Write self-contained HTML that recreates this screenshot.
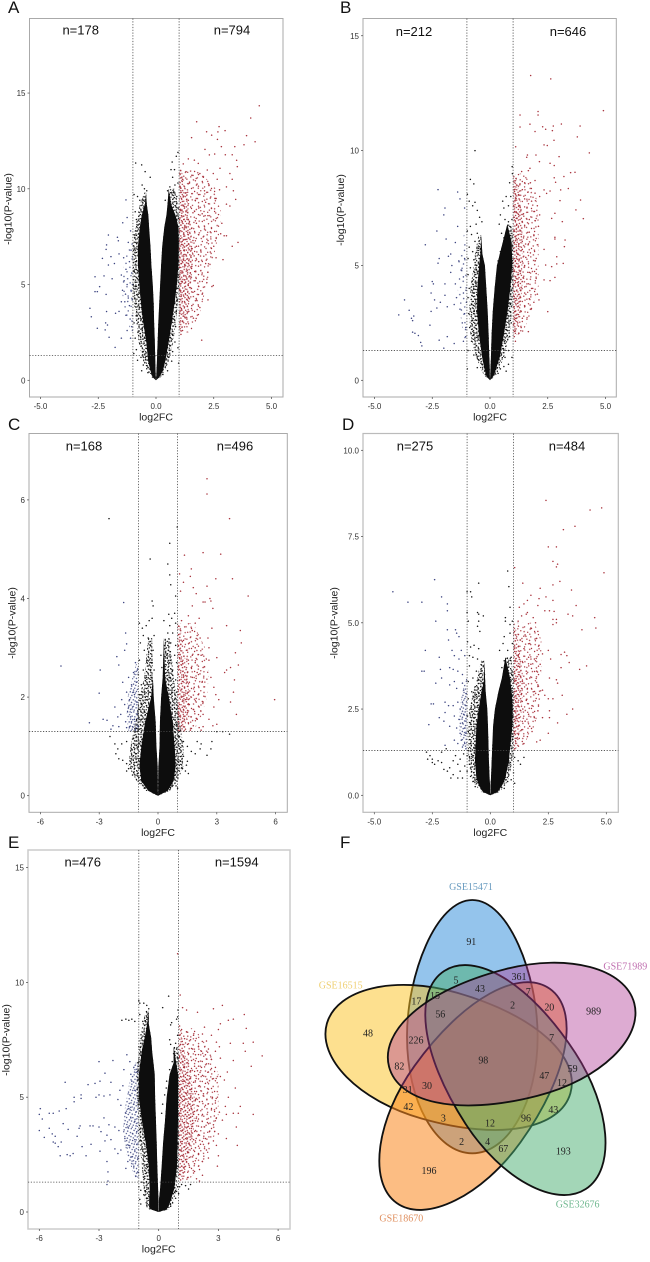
<!DOCTYPE html>
<html lang="en">
<head>
<meta charset="utf-8">
<title>Volcano plots and Venn diagram</title>
<style>
html,body{margin:0;padding:0;background:#fff;}
#figure{display:block;width:650px;height:1262px;filter:blur(0.3px);}
.tick{font:8px "Liberation Sans",sans-serif;fill:#333;}
.axt{font:10.5px "Liberation Sans",sans-serif;fill:#222;}
.cnt{font:13px "Liberation Sans",sans-serif;fill:#111;}
.pl{font:17px "Liberation Sans",sans-serif;fill:#111;}
.vn{font:30px "Liberation Serif",serif;fill:#222;}
.vs{font:30px "Liberation Serif",serif;}
</style>
</head>
<body>
<svg id="figure" xmlns="http://www.w3.org/2000/svg" width="650" height="1262" viewBox="0 0 650 1262">
<defs>
<filter id="coreBlur" x="-20%" y="-20%" width="140%" height="140%"><feGaussianBlur stdDeviation="0.35"/></filter>
<g id="speckleDense">
<circle cx="1.2" cy=".8" r=".7"/><circle cx="5.1" cy="1.6" r=".7"/><circle cx="9.3" cy=".5" r=".7"/><circle cx="13.4" cy="1.9" r=".7"/><circle cx="15.9" cy=".3" r=".7"/><circle cx="3" cy="3.4" r=".7"/><circle cx="7.2" cy="3.9" r=".7"/><circle cx="11.4" cy="3.1" r=".7"/><circle cx="15.2" cy="4.2" r=".7"/><circle cx=".6" cy="5.7" r=".7"/><circle cx="4.9" cy="6.2" r=".7"/><circle cx="8.8" cy="5.5" r=".7"/><circle cx="12.7" cy="6.4" r=".7"/><circle cx="2.4" cy="8.1" r=".7"/><circle cx="6.3" cy="7.9" r=".7"/><circle cx="10.5" cy="8.6" r=".7"/><circle cx="14.6" cy="7.7" r=".7"/><circle cx=".9" cy="10.2" r=".7"/><circle cx="4.4" cy="10.6" r=".7"/><circle cx="8.1" cy="9.9" r=".7"/><circle cx="12.2" cy="10.4" r=".7"/><circle cx="16.1" cy="10.1" r=".7"/><circle cx="2.7" cy="12.4" r=".7"/><circle cx="6.6" cy="12.1" r=".7"/><circle cx="10.2" cy="12.8" r=".7"/><circle cx="14.3" cy="12.5" r=".7"/><circle cx=".5" cy="14.4" r=".7"/><circle cx="4.8" cy="14.7" r=".7"/><circle cx="8.5" cy="14.2" r=".7"/><circle cx="12.4" cy="14.9" r=".7"/><circle cx="16" cy="14.3" r=".7"/><circle cx="2.2" cy="16.2" r=".7"/><circle cx="6.9" cy="16.1" r=".7"/><circle cx="10.8" cy="16.4" r=".7"/><circle cx="14.8" cy="16.5" r=".7"/>
</g>
<g id="speckleSparse">
<circle cx="2.3" cy="1.5" r=".7"/><circle cx="8.5" cy="3.8" r=".7"/><circle cx="15.4" cy=".8" r=".7"/><circle cx="18.5" cy="6.2" r=".7"/><circle cx="4.6" cy="6.9" r=".7"/><circle cx="11.5" cy="8.5" r=".7"/><circle cx=".8" cy="10.8" r=".7"/><circle cx="7.7" cy="12.3" r=".7"/><circle cx="14.6" cy="11.5" r=".7"/><circle cx="18.5" cy="14.6" r=".7"/><circle cx="3.8" cy="16.2" r=".7"/><circle cx="10.8" cy="16.9" r=".7"/><circle cx="16.2" cy="18.5" r=".7"/><circle cx="6.9" cy="19.2" r=".7"/>
</g>
<pattern id="blackDense" width="17" height="17" patternUnits="userSpaceOnUse"><use href="#speckleDense" fill="#111"/></pattern>
<pattern id="blackDense2" width="17" height="17" patternUnits="userSpaceOnUse" patternTransform="rotate(37)"><use href="#speckleDense" fill="#111"/></pattern>
<pattern id="redDense" width="17" height="17" patternUnits="userSpaceOnUse" patternTransform="rotate(12)"><use href="#speckleDense" fill="#a62a36"/></pattern>
<pattern id="redSparse" width="20" height="20" patternUnits="userSpaceOnUse"><use href="#speckleSparse" fill="#a8323c"/></pattern>
<pattern id="redSparse2" width="20" height="20" patternUnits="userSpaceOnUse" patternTransform="rotate(31)"><use href="#speckleSparse" fill="#a8323c"/></pattern>
<pattern id="blueDense" width="17" height="17" patternUnits="userSpaceOnUse" patternTransform="rotate(-20)"><use href="#speckleDense" fill="#3c4480"/></pattern>
<pattern id="blueSparse" width="20" height="20" patternUnits="userSpaceOnUse" patternTransform="rotate(-12)"><use href="#speckleSparse" fill="#3c4480"/></pattern>
</defs>
<rect width="650" height="1262" fill="#fff"/>
<g id="panels"></g>
<g transform="translate(310 860) scale(0.3333)">
<g stroke="#111" stroke-width="5.5">
<path transform="translate(487 500) rotate(-90)" fill="#4d9de0" fill-opacity=".6" d="M-380 0C-380 -108 -226 -196 -30 -196C158 -196 380 -108 380 0C380 108 158 196 -30 196C-226 196 -380 108 -380 0Z"/>
<path transform="translate(416 595) rotate(196)" fill="#fbc11f" fill-opacity=".5" d="M-380 0C-380 -108 -226 -196 30 -196C226 -196 380 -108 380 0C380 108 226 196 30 196C-226 196 -380 108 -380 0Z"/>
<path transform="translate(490 708) rotate(125.6)" fill="#fa871e" fill-opacity=".55" d="M-395 0C-395 -108 -226 -196 30 -196C226 -196 395 -108 395 0C395 108 226 196 30 196C-226 196 -395 108 -395 0Z"/>
<path transform="translate(615 660) rotate(57)" fill="#47ad6f" fill-opacity=".5" d="M-390 0C-390 -108 -226 -196 30 -196C226 -196 390 -108 390 0C390 108 226 196 30 196C-226 196 -390 108 -390 0Z"/>
<path transform="translate(605 525) rotate(-14.5)" fill="#af3794" fill-opacity=".42" d="M-380 0C-380 -108 -226 -196 30 -196C226 -196 380 -108 380 0C380 108 226 196 30 196C-226 196 -380 108 -380 0Z"/>
</g>
<g text-anchor="middle" id="venn-counts"></g>
<g text-anchor="middle">
<text class="vs" x="483" y="90" fill="#6a9cc0">GSE15471</text>
<text class="vs" x="946" y="328" fill="#c070b0">GSE71989</text>
<text class="vs" x="92" y="385" fill="#efd072">GSE16515</text>
<text class="vs" x="803" y="1043" fill="#70b890">GSE32676</text>
<text class="vs" x="274" y="1085" fill="#e09060">GSE18670</text>
</g>
</g>
</svg>
<script>
/* ---------- Panel A data ---------- */
const aLeftY=[0,.15,.5,1,2,3,4,5,6,7,8,8.6,9.2,9.8];
const aLeftOuter=[0,-.14,-.24,-.34,-.42,-.55,-.65,-.72,-.78,-.78,-.7,-.62,-.48,-.43];
const aLeftInner=[0,-.01,-.02,-.03,-.05,-.08,-.1,-.14,-.2,-.24,-.3,-.33,-.4,-.43];
const aLeftHalo=[0,-.2,-.35,-.55,-.75,-.85,-.95,-1,-1,-1,-.9,-.8,-.7,-.5];
const aRightY=[0,.15,.5,1,2,3,4,5,6,7,8,8.6,9.2,10];
const aRightOuter=[0,.14,.3,.4,.55,.68,.8,.9,.97,.99,.97,.85,.65,.55];
const aRightInner=[0,.01,.02,.04,.07,.1,.14,.18,.22,.27,.36,.45,.5,.55];
const aRightHalo=[0,.2,.38,.55,.75,.85,.95,1,1,1,1,1,.95,.8];
const aRedBandY=[2.5,3.5,5,6,7,8,9,10,11];
const aRedBandNear=[1.1,1.4,1.5,1.6,1.6,1.5,1.4,1.3,1.1];
const aRedBandFar=[1.5,1.9,2.2,2.4,2.6,2.8,2.8,2.6,1.8];
const aBlueBandY=[2.5,4,5,6,7.5];
const aBlueBandFar=[-1.1,-1.4,-1.5,-1.4,-1.1];
const aRed=[[4.47,14.34],[4.1,13.7],[1.76,13.5],[2.73,13.25],[2.99,13.04],[2.19,12.98],[2.68,12.97],[2.41,12.8],[3.92,12.78],[1.54,12.67],[2.66,12.58],[4.29,12.46],[3.81,12.3],[3.41,12.2],[2.83,12.2],[2.12,12.06],[2.31,11.77],[2.54,11.82],[3,11.78],[3.3,11.78],[3.49,11.49],[1.4,11.56],[1.66,11.5],[1.18,11.3],[1.83,11.33],[2.77,11.07],[3.52,11.16],[2.22,10.98],[1.9,10.8],[2.48,10.8],[3.2,10.8],[1.3,10.9],[1.6,10.7],[2.05,10.6],[2.65,10.5],[3.3,10.5],[1.15,10.5],[1.45,10.3],[1.75,10.2],[2.3,10.2],[3.05,10.1],[1.05,10.1],[2.75,9.95],[3.35,9.9],[2.1,9.9],[1.3,9.8],[1.55,9.75],[1.9,9.7],[3.45,9.45],[2.55,9.5],[1.1,9.5],[1.4,9.4],[1.7,9.4],[2.15,9.3],[3.05,9.2],[3.2,9.1],[1.2,9.1],[1.5,9.05],[1.85,9],[2.4,9],[1.05,8.9],[1.3,8.8],[1.6,8.75],[2,8.7],[2.25,8.6],[1.1,8.6],[1.02,8.4],[1.2,8.4],[1.45,8.3],[1.75,8.2],[2.85,8.2],[1.08,8.1],[1.3,8],[1.55,7.95],[2.1,7.9],[2.35,7.75],[1.03,7.8],[1.2,7.7],[1.4,7.6],[1.85,7.6],[2.8,7.65],[2.95,7.55],[3.05,7.55],[1.05,7.4],[1.25,7.35],[1.6,7.3],[2.25,7.3],[3.55,7.2],[3.3,7],[1.1,7.1],[1.35,7.05],[1.75,7],[2.5,7],[1.02,6.9],[1.2,6.8],[1.5,6.75],[1.95,6.7],[2.35,6.7],[1.08,6.6],[1.3,6.55],[1.65,6.5],[2.6,6.4],[2.9,6.3],[1.04,6.4],[1.18,6.3],[1.42,6.25],[1.85,6.2],[2.15,6.1],[1.1,6.1],[1.25,6],[1.55,5.95],[1.02,5.9],[1.35,5.75],[1.72,5.7],[2,5.6],[1.12,5.6],[1.45,5.45],[1.02,5.4],[1.25,5.25],[1.65,5.2],[2.2,5.1],[2.48,4.95],[2.42,4.9],[1.08,5.05],[1.4,4.95],[1.85,4.9],[1.03,4.75],[1.2,4.65],[1.6,4.6],[2,4.5],[1.1,4.4],[1.4,4.35],[2.25,4.2],[1.75,4.2],[1.02,4.1],[1.25,4.05],[1.55,3.9],[1.9,3.8],[1.1,3.75],[1.42,3.6],[1.03,3.5],[1.25,3.3],[1.62,3.25],[1.06,3.1],[1.3,2.95],[1.02,2.8],[1.15,2.6],[1.08,2.4],[1.98,2.1]];
const aBlue=[[-2.86,3.76],[-2.8,3.32],[-2.64,5.41],[-2.64,4.63],[-2.54,4.63],[-2.54,2.72],[-2.44,4.89],[-2.25,5.45],[-2.16,4.49],[-2.14,3.59],[-2.18,3],[-2.1,2.89],[-2.2,2.63],[-2.03,2.25],[-1.77,1.72],[-2.06,7.59],[-2.14,7.07],[-2.16,6.84],[-2.32,6.37],[-1.95,6.46],[-2.06,6.02],[-1.67,7.47],[-1.63,7.29],[-1.44,8.23],[-1.3,9.42],[-1.9,5.3],[-1.8,6.1],[-1.6,6.6],[-1.4,6.4],[-1.3,5.8],[-1.5,5.5],[-1.38,5.2],[-1.25,5],[-1.45,4.7],[-1.32,4.5],[-1.5,4.1],[-1.35,4.1],[-1.2,4.3],[-1.15,3.9],[-1.6,3.6],[-1.75,3.5],[-1.3,3.4],[-1.12,3.2],[-1.05,5.6],[-1.15,6.2],[-1.08,6.8],[-1.2,7.2],[-1.1,7.8],[-1.25,8.5],[-1.05,2.8],[-1.25,2.6],[-1.5,2.2],[-1.1,2.2],[-1.02,5],[-1.08,4.7],[-1.03,4.2]];
const aBlack=[[-.88,11.35],[-.62,11.25],[-.47,10.9],[-.25,10.6],[-.6,10.2],[-.5,10],[-.4,9.9],[-.95,9.7],[-.8,9.6],[-.7,9.4],[-.55,9.4],[-.9,8.8],[-.85,8.4],[-.78,8.1],[-.95,7.6],[-.82,7.2],[-.9,6.8],[-.86,6.2],[-.94,5.7],[-.8,5.3],[-.88,4.9],[-.76,4.5],[-.92,4.3],[-.72,3.8],[-.84,3.4],[-.64,3.2],[-.95,3],[-.6,2.7],[-.78,2.5],[-.9,2.2],[-.5,2.2],[-.7,1.9],[-.85,1.6],[-.55,1.5],[-.96,1.4],[-.65,1.2],[-.45,1.1],[-.8,1.05],[-.55,.8],[-.4,.6],[-.62,.5],[-.35,.4],[.95,11.9],[.88,11.7],[.7,11.4],[.65,11],[.8,11],[.72,10.6],[.6,10.1],[.5,9.9],[.82,10.2],[.95,10.3],[.4,9.4],[.58,9.7],[.75,9.8],[.9,9.6],[.97,9],[.85,9.1],[.98,5.5],[.95,4.8],[.92,4.2],[.88,3.6],[.75,3.2],[.85,2.8],[.7,2.4],[.82,2],[.6,1.8],[.72,1.5],[.95,1.7],[.55,1.2],[.68,1],[.98,.9],[.45,.8],[.5,.5],[.3,.3]];

/* ---------- Panel B data ---------- */
const bLeftY=[0,.2,.5,1,2,3,4,5,5.5,6.3];
const bLeftOuter=[0,-.16,-.24,-.34,-.48,-.56,-.55,-.47,-.42,-.38];
const bLeftInner=[0,-.01,-.01,-.03,-.06,-.1,-.16,-.22,-.33,-.38];
const bLeftHalo=[0,-.25,-.4,-.6,-.85,-.9,-.85,-.7,-.65,-.5];
const bRightY=[0,.2,.5,1,2,3,4,5,6,6.8];
const bRightOuter=[0,.16,.26,.42,.6,.76,.88,.96,.94,.75];
const bRightInner=[0,.01,.02,.04,.07,.12,.2,.3,.55,.75];
const bRightHalo=[0,.25,.4,.6,.85,.95,1,1,1,.95];
const bRedBandY=[2,3,4,5,6,7,8,9];
const bRedBandNear=[1.15,1.3,1.4,1.4,1.4,1.4,1.3,1.1];
const bRedBandFar=[1.4,1.8,2.1,2.1,2.1,2.1,2,1.5];
const bBlueBandY=[1.5,3,4,5,6.5];
const bBlueBandFar=[-1.1,-1.3,-1.4,-1.4,-1.1];
const bRed=[[1.76,13.27],[2.63,13.12],[4.91,11.74],[2.08,11.7],[2.08,11.55],[1.3,11.55],[1.73,11.15],[1.3,11.03],[2.28,11.04],[2.41,10.93],[2.74,11.07],[2.7,10.87],[3.09,11.16],[3.9,11.07],[1.95,10.83],[3.78,10.6],[2.77,10.45],[1.11,10.17],[2.34,10.25],[2.48,10.22],[4.3,9.9],[1.62,9.81],[1.59,9.71],[1.99,9.81],[2.99,9.74],[2.14,9.52],[2.6,9.45],[2.78,9.35],[1.73,9.23],[1.37,9.09],[1.66,9.13],[3.68,9.06],[3.49,9.04],[3.2,8.87],[2.78,8.82],[2.84,8.62],[3.39,8.35],[3.06,8.29],[2.34,8.29],[2.6,8.24],[2.45,8.14],[3.92,7.85],[3.03,7.82],[3.72,7.42],[4.04,7.04],[2.81,7.27],[2.67,7.05],[3.13,6.91],[2.81,6.23],[2.81,6.15],[3.25,6.11],[3.22,5.82],[2.34,5.7],[2.89,5.38],[3.17,5.09],[2.89,5.07],[2.67,4.95],[2.41,5.02],[2.34,4.37],[2.6,4.34],[2.81,4.48],[2.5,2.99],[2.12,3.5],[1.66,2.12],[1.95,8.7],[1.75,8.6],[1.5,8.6],[1.3,8.55],[1.15,8.5],[1.05,8.3],[1.4,8.3],[1.65,8.2],[1.95,8.15],[2.15,8],[1.25,8.05],[1.1,7.9],[1.5,7.9],[1.8,7.8],[2.05,7.6],[1.02,7.6],[1.3,7.55],[1.6,7.5],[1.9,7.35],[1.15,7.3],[1.45,7.25],[2.15,7.2],[1.05,7.1],[1.3,7],[1.7,7],[1.95,6.95],[1.15,6.75],[1.5,6.75],[2.1,6.7],[1.02,6.5],[1.3,6.5],[1.7,6.45],[1.9,6.3],[1.1,6.25],[1.45,6.2],[1.05,6],[1.25,5.95],[1.65,5.9],[2.05,5.9],[1.02,5.75],[1.4,5.7],[1.15,5.55],[1.75,5.55],[1.55,5.35],[1.05,5.3],[1.25,5.2],[1.95,5.2],[1.5,5],[1.1,4.95],[1.02,4.75],[1.3,4.75],[1.7,4.7],[2,4.65],[1.1,4.5],[1.45,4.45],[1.2,4.25],[1.6,4.2],[1.02,4.1],[1.35,4.05],[1.85,4],[1.15,3.9],[1.5,3.8],[2.05,3.75],[1.05,3.65],[1.3,3.6],[1.7,3.55],[1.9,3.4],[1.2,3.35],[1.5,3.25],[1.05,3.2],[1.75,3.1],[1.35,3],[1.15,2.85],[1.05,2.65],[1.4,2.7],[1.2,2.5],[1.02,2.4],[1.35,2.3],[1.1,2.15],[1.25,2.05],[1.05,1.9],[1.1,1.7]];
const bBlue=[[-3.95,2.85],[-3.7,3.5],[-3.5,3.05],[-3.4,2.7],[-3.35,2.6],[-3.3,2.8],[-3.35,2.1],[-3.25,2.05],[-3.1,1.95],[-3,1.65],[-2.95,1.5],[-2.95,4.1],[-2.8,5.9],[-2.6,2.4],[-2.55,3],[-2.55,3.8],[-2.5,4.3],[-2.45,4.2],[-2.4,3.5],[-2.3,3.15],[-2.3,6.5],[-2.25,8.3],[-2.25,5.1],[-2.2,5.3],[-2.15,3.4],[-2.2,1.75],[-2,7.2],[-1.95,7.5],[-2,1.4],[-1.95,4.2],[-1.95,3.7],[-1.9,6.15],[-1.85,1.9],[-1.85,3.2],[-1.8,5.4],[-1.7,5.5],[-1.7,4.7],[-1.65,5],[-1.55,3.3],[-1.55,1.6],[-1.5,6],[-1.5,4.2],[-1.45,3.6],[-1.4,6.7],[-1.35,5.2],[-1.3,7.9],[-1.25,4.8],[-1.3,3.1],[-1.2,2.5],[-1.15,3.8],[-1.15,4.5],[-1.1,2.9],[-1.1,5.3],[-1.05,1.9],[-1.15,1.7],[-1.05,2.3],[-1.02,3.4],[-1.1,7.5],[-1.4,8.2]];
const bBlack=[[-.65,10],[-.85,8.75],[-.7,8.55],[-.98,8.1],[-.9,7.8],[-.75,7.6],[-.65,7.75],[-.55,7.4],[-.45,7.1],[-.35,6.9],[-.6,6.8],[-.85,6.7],[-.98,6.5],[-.8,6.35],[-.55,6.4],[-.4,6.2],[-.65,6.05],[-.9,5.8],[-.75,5.6],[-.5,5.75],[-.95,5.3],[-.7,5.25],[-.58,5],[-.85,4.9],[-.65,4.6],[-.95,4.6],[-.78,4.3],[-.6,4.2],[-.9,4],[-.72,3.8],[-.62,3.5],[-.95,3.6],[-.8,3.3],[-.68,3],[-.92,2.9],[-.75,2.6],[-.6,2.4],[-.88,2.3],[-.7,2],[-.52,1.9],[-.8,1.7],[-.6,1.5],[-.95,1.3],[-.7,1.1],[-.5,.9],[-.35,.7],[-.55,.55],[-.98,.5],[.55,7.8],[.6,7.5],[.8,7.6],[.9,8],[.85,8.6],[.97,9],[.96,9.3],[.7,8],[.65,7],[.45,7.2],[.4,6.8],[.8,6.9],[.5,6.4],[.95,7],[.6,6.2],[.45,5.6],[.35,5.2],[.3,4.6],[.97,5.2],[.95,4.5],[.92,3.9],[.88,3.3],[.8,2.8],[.92,2.5],[.72,2.2],[.85,1.9],[.62,1.7],[.8,1.3],[.95,1],[.65,1],[.8,.7],[.6,.6],[.45,.5],[.7,.4],[.35,.3]];

/* ---------- Panel C data ---------- */
const cLeftY=[0,.1,.3,.6,1,1.5,2,2.4,3.2];
const cLeftOuter=[0,-.5,-.85,-.95,-.85,-.65,-.35,-.26,-.3];
const cLeftInner=[0,-.01,-.01,-.02,-.08,-.12,-.22,-.26,-.3];
const cLeftHalo=[0,-.6,-1.1,-1.5,-1.4,-1.15,-.95,-.7,-.5];
const cRightY=[0,.1,.3,.6,1,1.5,2,2.4,3.2];
const cRightOuter=[0,.5,.8,.9,.85,.75,.55,.36,.3];
const cRightInner=[0,.01,.01,.02,.08,.1,.16,.24,.3];
const cRightHalo=[0,.6,1,1.3,1.3,1.1,.95,.8,.6];
const cRedBandY=[1.3,1.6,2,2.5,3,3.5];
const cRedBandNear=[1.3,1.5,1.6,1.5,1.3,1.1];
const cRedBandFar=[1.8,2.2,2.5,2.6,2.4,1.8];
const cBlueBandY=[1.3,1.6,2,2.4,2.7];
const cBlueBandFar=[-1.5,-1.6,-1.55,-1.3,-1.1];
const cRed=[[2.5,6.43],[2.5,6.12],[3.65,5.62],[1.35,4.88],[2.3,4.93],[3.2,4.9],[1.7,4.6],[1.65,4.45],[1.1,4.5],[2.95,4.4],[3.8,4.4],[1.3,4.33],[2.5,4.25],[1.8,4.22],[1.15,4.15],[1.95,4.1],[4.6,4.05],[2.65,4],[2.7,3.95],[2.3,3.93],[2.4,3.93],[1.75,3.85],[2.8,3.8],[1.55,3.65],[2.1,3.6],[1.2,3.55],[1.9,3.5],[3.5,3.45],[2.75,3.4],[1.75,3.35],[4.2,3.35],[2,3.25],[2.15,3.2],[2.55,3.2],[1.3,3.15],[1.6,3.1],[4.25,3.1],[1.05,3.05],[1.9,3],[2.6,3],[1.45,2.95],[1.75,2.85],[2.2,2.85],[3.95,2.9],[1.1,2.8],[1.55,2.75],[2.6,2.75],[3,2.8],[1.9,2.7],[1.2,2.65],[1.7,2.6],[2.3,2.6],[4.1,2.65],[3.7,2.6],[1.05,2.55],[1.5,2.5],[2,2.5],[3.5,2.55],[3.4,2.5],[1.3,2.45],[1.75,2.4],[2.7,2.4],[1.1,2.35],[1.6,2.3],[2.25,2.3],[3.9,2.35],[1.35,2.2],[1.85,2.2],[2.85,2.2],[1.05,2.15],[1.55,2.1],[2.05,2.05],[2.95,2.05],[3.85,2.1],[1.2,2],[1.7,2],[3.1,1.95],[1.4,1.95],[1.95,1.9],[2.3,1.9],[1.1,1.85],[1.6,1.85],[2.1,1.8],[2.85,1.8],[3.7,1.9],[1.3,1.75],[1.8,1.75],[1.05,1.7],[1.5,1.68],[2.3,1.65],[1.15,1.6],[1.7,1.6],[4,1.65],[5.95,1.95],[1.35,1.55],[2,1.55],[2.6,1.55],[1.05,1.5],[1.55,1.48],[1.8,1.42],[3,1.45],[1.2,1.42],[2.1,1.38],[2.3,1.4],[2.8,1.42],[1.4,1.35],[1.05,1.33],[1.65,1.33],[2.2,1.33]];
const cBlue=[[-3.5,1.48],[-2.8,1.55],[-2.6,1.53],[-2.3,1.42],[-2.4,1.35],[-2.2,1.8],[-2.05,1.6],[-2,1.4],[-1.9,1.65],[-1.85,1.95],[-1.8,2.3],[-1.7,1.85],[-1.65,1.5],[-1.6,2.1],[-1.55,1.7],[-1.5,2.4],[-1.45,1.4],[-1.45,1.95],[-1.4,1.6],[-1.35,2.25],[-1.3,1.8],[-1.3,1.4],[-1.25,2.5],[-1.2,2.05],[-1.2,1.55],[-1.15,1.35],[-1.1,2.3],[-1.1,1.9],[-1.05,1.65],[-1.05,2.55],[-1.02,1.4],[-1.75,3.92],[-1.65,3.3],[-1.6,3.08],[-1.7,2.95],[-2.1,2.82],[-2,2.65],[-4.95,2.63],[-2.95,2.55],[-3,2.08],[-1.15,2.7],[-1.25,2.1],[-1.5,1.8],[-1.35,1.5],[-1.6,1.38]];
const cBlack=[[-2.5,5.62],[-.4,4.8],[.5,4.7],[.6,5.12],[.98,5.45],[.6,4.48],[.65,4.28],[.9,4.05],[-.3,3.95],[-.25,3.85],[.85,3.7],[.55,3.68],[.7,3.6],[-.95,3.5],[-.8,3.4],[-.6,3.45],[-.45,3.55],[-.3,3.6],[.9,3.5],[.6,3.45],[.3,3.55],[-.75,3.25],[-.5,3.2],[-.2,3.25],[.5,3.3],[.75,3.3],[-.9,3.1],[-.4,3.05],[.35,3.05],[.65,3.1],[.9,3.05],[-.7,2.95],[-.25,2.95],[.15,2.85],[.45,2.85],[.85,2.85],[-.95,2.75],[-.55,2.75],[-.3,2.7],[.3,2.75],[.6,2.7],[.95,2.7],[-.75,2.55],[-.4,2.55],[-.2,2.55],[.2,2.6],[.45,2.5],[.75,2.55],[-1,2.45],[-.6,2.4],[-.35,2.4],[.35,2.4],[.6,2.4],[.9,2.35],[-.85,2.25],[-.5,2.25],[.55,2.25],[.8,2.2],[-.7,2.1],[-.95,2.05],[-.45,2.1],[.7,2.1],[.95,2.1],[-.6,1.95],[-.85,1.85],[.6,1.9],[.85,1.95],[-.95,1.75],[-.7,1.7],[.72,1.75],[.95,1.75],[-.85,1.55],[-.65,1.5],[.8,1.55],[.95,1.45],[-.95,1.35],[-.75,1.25],[.85,1.3],[-1.1,1.2],[-1.3,1.15],[-1.6,1.1],[-1.85,1.05],[-2.05,.95],[-2.15,.85],[-2,.75],[-1.8,.72],[-1.6,.65],[-1.5,.55],[-1.35,.95],[-1.15,.85],[-1.4,.7],[-1.2,.55],[-1,1],[-1,.75],[-1.05,.45],[-.9,.55],[-.85,1],[-1.6,.5],[-1.3,.42],[-2.45,1.2],[-2.2,1.05],[.95,1.15],[1.1,1.2],[1.3,1.1],[1.5,1],[1.7,.9],[1.9,.85],[2,1.1],[2.15,.95],[2.2,1.05],[1.3,.8],[1.5,.7],[1.1,.95],[1.15,.7],[1.25,.55],[1.4,.5],[1.45,.62],[1.55,.45],[.95,.85],[.95,.55],[1,.7],[.9,.42],[.92,.2],[1,.15],[-.85,.3],[-.7,.15],[2.5,.82],[2.7,.95],[2.75,1.1],[3,1.3],[3.3,1.3],[3.65,1.25],[-.55,.18],[.7,.2],[.6,.12]];

/* ---------- Panel D data ---------- */
const dLeftY=[0,.1,.3,.5,1,2,2.5,3,3.3,3.9];
const dLeftOuter=[0,-.32,-.5,-.6,-.66,-.6,-.5,-.38,-.28,-.26];
const dLeftInner=[0,-.01,-.01,-.03,-.06,-.1,-.13,-.2,-.22,-.26];
const dLeftHalo=[0,-.4,-.65,-.8,-.95,-.95,-.9,-.75,-.6,-.4];
const dRightY=[0,.1,.3,.5,1,2,2.5,3,3.4,4];
const dRightOuter=[0,.32,.52,.65,.8,.95,.97,.92,.85,.65];
const dRightInner=[0,.01,.01,.03,.06,.12,.2,.35,.5,.65];
const dRightHalo=[0,.4,.65,.8,.95,1,1,1,1,.9];
const dRedBandY=[1.3,2,2.5,3,3.5,4,4.5,5];
const dRedBandNear=[1.1,1.3,1.35,1.4,1.4,1.3,1.2,1.05];
const dRedBandFar=[1.3,1.9,2.1,2.2,2.2,2.2,2.2,1.9];
const dBlueBandY=[1.4,2,2.6,3,3.4];
const dBlueBandFar=[-1.2,-1.35,-1.3,-1.2,-1.05];
const dRed=[[2.4,8.55],[4.8,8.33],[4.3,8.27],[3.65,7.8],[3.15,7.7],[2.5,7.2],[2.85,7.2],[2.7,6.78],[2.9,6.7],[2.85,6.62],[1.05,6.6],[4.9,6.45],[3,6.2],[1.4,6.15],[2.7,6.1],[2.15,6],[3.5,5.95],[2.4,5.75],[1.75,5.8],[2.1,5.7],[2.7,5.65],[1.6,5.65],[1.45,5.55],[2.05,5.5],[3.7,5.5],[1.25,5.45],[2.35,5.35],[2.55,5.35],[2.75,5.33],[1.6,5.3],[1.55,5.25],[1.35,5.2],[3.35,5.25],[3.55,5.2],[1.85,5.15],[2.7,5.1],[2.85,5.1],[4.5,5.15],[1.2,5.05],[1.95,5],[2.7,4.95],[2.85,5],[4.55,4.85],[1.75,4.85],[2.05,4.75],[3.95,4.8],[1.1,4.65],[1.5,4.65],[2,4.55],[1.3,4.5],[1.7,4.4],[2.1,4.35],[1.05,4.3],[1.45,4.25],[2.5,4.2],[3.2,4.15],[3.05,4.08],[3.3,4.05],[2.25,4.1],[1.2,4.05],[1.65,4],[1.9,3.95],[2.6,3.95],[3.4,3.85],[1.05,3.9],[1.4,3.85],[1.75,3.8],[2.15,3.8],[4.15,3.75],[3.05,3.7],[3.85,3.65],[1.15,3.65],[1.55,3.6],[2,3.6],[1.3,3.45],[1.7,3.4],[2.55,3.4],[2.85,3.35],[1.05,3.3],[1.45,3.25],[2.9,3.25],[2.05,3.2],[1.2,3.1],[1.6,3.1],[2.25,3.05],[1.85,3],[1.35,2.95],[1.05,2.85],[2.35,2.9],[3.1,2.9],[1.55,2.75],[2.5,2.8],[2.7,2.8],[1.2,2.7],[1.8,2.6],[1.4,2.5],[3.55,2.5],[1.05,2.45],[2.05,2.45],[2.55,2.45],[1.65,2.35],[3.3,2.35],[1.25,2.25],[1.9,2.25],[2.25,2.25],[2.55,2.25],[1.05,2.2],[1.5,2.15],[2.9,2.1],[1.15,2],[1.7,2],[1.35,1.9],[1.8,1.85],[2.5,1.8],[1.05,1.8],[1.6,1.7],[2.15,1.6],[1.25,1.65],[2,1.55],[1.1,1.5],[1.45,1.5],[1.05,1.35]];
const dBlue=[[-4.2,5.9],[-3.55,5.6],[-2.95,5.6],[-2.4,6.25],[-2.1,5.75],[-1.85,5.55],[-1.85,5.35],[-2.35,5.05],[-1.85,4.8],[-1.5,4.8],[-1.45,4.7],[-1.35,4.6],[-1.8,4.5],[-2.8,4.2],[-2.2,4],[-1.65,4.2],[-1.55,4.05],[-1.25,4.2],[-1.1,4.05],[-1.35,3.95],[-2.15,3.65],[-2.85,3.6],[-2.95,3.6],[-1.75,3.7],[-1.6,3.65],[-1.4,3.6],[-1.2,3.5],[-2.1,3.4],[-1.55,3.3],[-1.2,3.25],[-2.35,3.25],[-1.75,3.2],[-1.45,3.1],[-1.15,3.05],[-1.05,2.95],[-2.55,2.65],[-2.45,2.65],[-1.95,2.7],[-1.8,2.6],[-1.6,2.6],[-1.4,2.7],[-1.2,2.7],[-1.05,2.6],[-1.3,2.5],[-1.15,2.35],[-1.55,2.3],[-1.95,2.4],[-2.2,2.25],[-1.35,2.2],[-2,2.15],[-1.2,2.1],[-1.05,2.15],[-2.65,2.05],[-1.75,2],[-1.45,1.95],[-1.1,1.95],[-1.3,1.8],[-1.05,1.8],[-1.55,1.6],[-1.25,1.6],[-1.1,1.5],[-1.4,1.5],[-1.2,1.4],[-1.95,1.45],[-1.05,1.35]];
const dBlack=[[.75,6.5],[.8,6.05],[-.5,6.15],[-.8,5.75],[-1,5.9],[-.85,5.9],[-.55,5.3],[-.5,5.25],[-.3,5.2],[-1,5.3],[-.95,5.05],[-.5,5.05],[-.55,4.9],[-.45,4.75],[.65,5.15],[.95,5.05],[.65,5.05],[.85,5.45],[.85,4.95],[.85,4.7],[.6,4.6],[.95,4.4],[-.98,4.45],[-.85,4.3],[-.7,4.35],[-.5,4.25],[-.9,4.05],[-.75,4],[-.55,3.95],[-.3,3.75],[-.9,3.75],[-.6,3.6],[-.4,3.6],[-.75,3.4],[-.5,3.35],[-.25,3.5],[-.95,3.3],[-.65,3.15],[-.35,3.25],[-.8,3],[-.5,2.95],[-.95,2.8],[-.7,2.75],[-.55,2.6],[-.85,2.5],[-.98,2.3],[-.7,2.25],[-.85,2.1],[-.6,2.05],[-.95,1.85],[-.72,1.75],[-.85,1.5],[-.65,1.4],[-.95,1.3],[-.75,1.15],[.55,4.4],[.4,4.2],[.75,4.2],[.9,4],[.6,3.9],[.75,3.7],[.5,3.7],[.92,3.5],[.6,3.4],[.97,2.9],[.97,2.3],[.98,1.7],[.98,1.2],[1.05,1.1],[1.2,1],[1.3,.9],[1.45,1.1],[-1,1.15],[-1.15,1.2],[-1.3,1.05],[-1.4,.9],[-1.5,1.15],[-1.6,1],[-1.75,.8],[-1.85,.7],[-2,.75],[-2.1,.95],[-2.25,1],[-2.5,1.05],[-2.6,1.15],[-2.7,1.05],[-2.75,1.25],[-2.4,.9],[-1.6,.6],[-1.7,.5],[-1.3,.7],[-1.1,.85],[-1.2,.5],[-1.4,.5],[-1,.7],[-.9,.9],[-.85,.55],[-.75,.4],[-.65,.25],[.7,.9],[.85,.75],[1,.65],[.75,.4],[.6,.2],[1.05,.35],[.9,.45],[-2.5,.95],[-2.1,1.25],[-1.9,1.35]];

/* ---------- Panel E data ---------- */
const eLeftY=[0,.1,.2,.5,1,2,3,4,5,6,7,7.6,8.2,8.8];
const eLeftOuter=[0,-.35,-.48,-.48,-.45,-.5,-.65,-.85,-1,-1,-.85,-.7,-.58,-.5];
const eLeftInner=[0,-.01,-.01,-.01,-.03,-.07,-.1,-.14,-.18,-.2,-.33,-.38,-.5,-.5];
const eLeftHalo=[0,-.45,-.6,-.7,-.75,-.85,-.95,-1,-1.1,-1.1,-1,-.95,-.8,-.65];
const eRightY=[0,.1,.2,.5,1,2,3,4,5,6,6.5,7.2];
const eRightOuter=[0,.35,.48,.6,.78,.92,.95,.97,.97,.97,.88,.75];
const eRightInner=[0,.01,.01,.01,.07,.15,.22,.32,.4,.55,.75,.75];
const eRightHalo=[0,.45,.6,.75,.9,.98,1,1,1,1,1,.95];
const eRedBandY=[1.4,2,3,4,5,6,7,8];
const eRedBandNear=[1.15,1.4,1.7,1.8,1.8,1.6,1.3,1.05];
const eRedBandFar=[1.5,2.2,2.7,3,3,3,2.6,1.8];
const eBlueBandY=[1.5,2.5,3.5,4.5,5.5,6.5];
const eBlueBandFar=[-1.2,-1.6,-1.8,-1.7,-1.5,-1.2];
const eRed=[[.95,11.25],[1.08,9.45],[3.2,9],[1.2,8.9],[1.4,8.8],[2.75,8.85],[1.95,8.7],[4.3,8.6],[3.75,8.4],[3.5,8.35],[3.1,8.2],[1.05,8.1],[2.3,8.05],[3,7.95],[4.4,8],[1.15,7.95],[1.4,7.85],[2.2,7.75],[1.05,7.7],[1.75,7.7],[2.65,7.7],[1.3,7.55],[1.6,7.5],[2.4,7.45],[3.6,7.35],[2.9,7.4],[4.25,7.35],[1.1,7.3],[1.45,7.3],[2,7.2],[4.75,7.4],[1.7,7.1],[2.5,7.1],[3.05,7.2],[4.35,7],[5.2,6.8],[1.2,7],[2.15,7],[2.85,7],[1.5,6.9],[1.05,6.8],[1.85,6.85],[2.35,6.85],[3.1,6.7],[2.65,6.65],[1.3,6.7],[1.65,6.6],[2,6.55],[3.75,6.6],[1.1,6.5],[1.45,6.5],[2.4,6.45],[4.65,6.35],[1.8,6.35],[1.25,6.3],[2.15,6.3],[2.85,6.3],[3.45,6.1],[1.05,6.2],[1.6,6.15],[1.95,6.15],[2.5,6.1],[1.35,6],[1.8,5.95],[2.2,5.95],[1.1,5.9],[3.1,5.9],[1.55,5.8],[2,5.8],[2.7,5.8],[1.25,5.7],[1.75,5.65],[2.35,5.6],[3.3,5.75],[1.05,5.55],[1.45,5.5],[2.05,5.5],[1.2,5.35],[1.65,5.35],[2.5,5.35],[3.85,5.4],[1.9,5.25],[1.05,5.2],[1.4,5.15],[2.25,5.15],[1.1,5],[1.6,5],[2.7,5],[3.5,5],[1.85,4.9],[1.25,4.85],[2.05,4.8],[2.85,4.75],[1.05,4.7],[1.45,4.65],[1.7,4.65],[2.35,4.65],[3.35,4.6],[4.1,4.6],[1.15,4.5],[1.55,4.45],[1.95,4.45],[2.65,4.45],[3.05,4.35],[3.75,4.3],[3.4,4.25],[4.75,4.25],[4,4.3],[1.05,4.3],[1.35,4.25],[1.75,4.25],[2.2,4.25],[1.55,4.1],[2.9,4.1],[1.1,4.05],[2,4.05],[3.2,4],[1.3,3.9],[2.45,3.9],[1.7,3.85],[2.75,3.8],[1.05,3.75],[1.45,3.7],[2.15,3.7],[3.9,3.7],[1.85,3.55],[1.2,3.55],[2.55,3.5],[1.55,3.4],[3,3.4],[1.05,3.35],[2.05,3.35],[1.35,3.2],[2.35,3.2],[3.4,3.2],[1.75,3.15],[2.75,3.1],[1.1,3.05],[1.55,2.95],[2.1,2.95],[3.95,2.9],[1.3,2.85],[2.9,2.9],[1.85,2.8],[1.05,2.7],[2.4,2.7],[1.5,2.6],[2,2.55],[1.2,2.45],[1.7,2.4],[3,2.45],[2.5,2.35],[1.05,2.3],[1.4,2.2],[2.2,2.2],[1.8,2.1],[1.15,2],[2.95,2],[1.55,1.95],[2.05,1.85],[1.3,1.75],[1.05,1.65],[1.75,1.7],[2.2,1.6],[1.45,1.5],[1.9,1.45],[1.1,1.4],[2.05,1.35]];
const eBlue=[[-4.7,5.65],[-3.2,5.6],[-2.95,5.7],[-3,6.55],[-2.3,6.6],[-2.7,6.05],[-2.4,5.65],[-3.55,5.55],[-3.9,5.1],[-3.9,4.95],[-4.25,5],[-3,5.1],[-3.15,5],[-2.75,5.05],[-2.45,5.1],[-5.95,4.5],[-6,4.25],[-5.5,4.3],[-5.3,4.3],[-5,4.4],[-4.65,4.5],[-4.25,4.8],[-5.85,4.05],[-4.8,3.85],[-3.95,3.75],[-3.45,3.75],[-3.3,3.75],[-4,3.65],[-6,3.55],[-5.5,3.65],[-4.55,3.6],[-5.35,3.4],[-5.75,3.25],[-5.2,3.3],[-4.9,3.05],[-4.1,3.3],[-5.2,3],[-5.05,2.85],[-5.3,3.05],[-3.85,2.85],[-3.4,2.95],[-3,3.7],[-2.9,3.5],[-2.95,2.65],[-2.7,3.1],[-4.6,2.5],[-4.3,2.55],[-4.45,2.45],[-3.65,2.45],[-4.95,2.45],[-2.75,4.1],[-2.5,3.8],[-2.4,3.15],[-2.6,3.35],[-2.2,3.7],[-2,3.55],[-2.2,2.75],[-2.05,2.55],[-1.9,2.7],[-1.9,4.65],[-2.05,4.9],[-1.95,5.3],[-1.8,5.5],[-1.75,6.2],[-1.6,6.85],[-1.65,4.3],[-1.55,3.7],[-1.7,3.2],[-1.45,6.55],[-1.4,6],[-1.35,5.7],[-1.45,5.1],[-1.5,4.5],[-1.4,4.1],[-1.3,3.4],[-1.5,2.9],[-1.35,2.4],[-1.55,2.2],[-1.65,1.9],[-1.25,6.3],[-1.2,5.3],[-1.25,4.7],[-1.2,3.95],[-1.2,3.15],[-1.2,2.7],[-1.25,2],[-1.1,6.1],[-1.15,4.35],[-1.1,3.5],[-1.1,2.95],[-1.05,2.35],[-1.05,1.75],[-1.15,1.55],[-2.6,1.2],[-2.55,1.75],[-2.55,1.35],[-2.6,2.2]];
const eBlack=[[.5,9.4],[.2,8.9],[-.95,9.1],[-.75,9.1],[-.6,9],[-.5,8.85],[-1,9.2],[-.95,8.6],[-.8,8.3],[-.6,8.5],[-.65,8.3],[-1.2,8.3],[-1.35,8.4],[-1.85,8.35],[-1.65,8.4],[-1.5,8.35],[.65,8.25],[.6,8.15],[.9,8.4],[.97,8.8],[.95,8.5],[.55,7.5],[.6,7.3],[.95,7.7],[.85,7.35],[.9,7.1],[.75,6.9],[.82,6.7],[.68,6.55],[.95,6.9],[.55,6.2],[.72,6.2],[.4,5.7],[.38,5.4],[.3,5.1],[.98,6.7],[.2,4.7],[.15,4.3],[-1,7.2],[-.95,6.9],[-1.05,6.5],[-.95,.55],[-.9,.35],[-1,1.1],[-.85,1.3],[-.7,1.55],[-.6,2],[-.75,2.4],[-.85,2.75],[-.95,3.1],[-.95,3.6],[-.65,.9],[-.75,.75],[-.55,.6],[-.9,.95],[-.6,.3],[.95,1.1],[1.05,1.1],[1.15,1.2],[1.35,1.15],[1.6,1.2],[1.5,1],[1,.8],[.85,.6],[.7,.4],[.6,.25],[.9,.9],[.8,.85],[.98,2],[.98,3],[.98,4.3]];

/* ---------- Axis tick labels ---------- */
const fiveTicksDecimal=["-5.0","-2.5","0.0","2.5","5.0"];
const fiveTickValues=[-5,-2.5,0,2.5,5];
const sixTicks=["-6","-3","0","3","6"];
const sixTickValues=[-6,-3,0,3,6];
const abeYTicks=[0,5,10,15];
const cYTicks=[0,2,4,6];
const dYTicks=[0,2.5,5,7.5,10];
const dYTickLabels=["0.0","2.5","5.0","7.5","10.0"];

/* ---------- Venn counts ---------- */
const vennCounts=["91","5","361","43","15","17","7","2","20","56","989","48","226","7","98","82","59","47","30","31","12","42","43","3","96","12","2","4","67","193","196"];
const vennCountX=[484,438,627,510,375,319,655,608,718,391,851,174,318,725,520,268,788,703,351,293,756,295,730,400,648,540,455,533,580,760,357];
const vennCountY=[245,360,350,386,407,424,395,435,441,463,453,519,541,533,600,618,626,647,677,689,668,740,749,775,775,789,845,845,866,874,932];

const SVGNS="http://www.w3.org/2000/svg";
function mk(parent,tag,attrs,text){
  const el=document.createElementNS(SVGNS,tag);
  for(const k in attrs){el.setAttribute(k,attrs[k]);}
  if(text!==undefined){el.textContent=text;}
  parent.appendChild(el);
  return el;
}

function drawPanel(c){
  const root=document.getElementById('panels');
  const g=mk(root,'g',{});
  
  
  const sx=v=>c.x0+v*c.kx;
  const sy=v=>c.y0-v*c.ky;
  const band=(ys,a,b)=>ys.map((y,i)=>sx(a[i])+','+sy(y)).concat(ys.map((y,i)=>sx(b[i])+','+sy(y)).reverse()).join(' ');

  const frame=mk(g,'rect',{x:c.l,y:c.t,width:c.r-c.l,height:c.b-c.t,fill:'#fff',stroke:c.frame,'stroke-width':c.fw});
  
  

  /* speckled density bands of the up and down regulated clouds */
  const baseRed=c.redY.map(()=>1);
  const baseBlue=c.blueY.map(()=>-1);
  const rf=mk(g,'polygon',{points:band(c.redY,baseRed,c.redFar),fill:'url(#redSparse)'});
  
  
  const rf2=mk(g,'polygon',{points:band(c.redY,baseRed,c.redFar),fill:'url(#redSparse2)'});
  
  
  const rn=mk(g,'polygon',{points:band(c.redY,baseRed,c.redNear),fill:'url(#redDense)'});
  
  
  const bf=mk(g,'polygon',{points:band(c.blueY,baseBlue,c.blueFar),fill:c.blueFill});
  
  

  /* fringe of scattered black points around the core */
  const lh=mk(g,'polygon',{points:band(c.leftY,c.leftHalo,c.leftInner),fill:'url(#blackDense)'});
  
  
  const lh2=mk(g,'polygon',{points:band(c.leftY,c.leftHalo,c.leftInner),fill:'url(#blackDense2)'});
  
  
  const rh=mk(g,'polygon',{points:band(c.rightY,c.rightHalo,c.rightInner),fill:'url(#blackDense)'});
  
  
  const rh2=mk(g,'polygon',{points:band(c.rightY,c.rightHalo,c.rightInner),fill:'url(#blackDense2)'});
  
  

  /* dense core of the volcano */
  const lb=mk(g,'polygon',{points:band(c.leftY,c.leftOuter,c.leftInner),fill:'#070707',filter:'url(#coreBlur)'});
  
  
  const rb=mk(g,'polygon',{points:band(c.rightY,c.rightOuter,c.rightInner),fill:'#070707',filter:'url(#coreBlur)'});
  
  

  const series=[[c.black,'#141414','black-point'],[c.blue,'#3c4480','blue-point'],[c.red,'#a8323c','red-point']];
  series.forEach(s=>{
    s[0].forEach(p=>{
      const dot=mk(g,'circle',{cx:sx(p[0]),cy:sy(p[1]),r:0.75,fill:s[1]});
      
      
    });
  });

  /* threshold lines */
  [-1,1].forEach(v=>{
    const ln=mk(g,'line',{x1:sx(v),x2:sx(v),y1:c.t,y2:c.b,stroke:'#444','stroke-width':.8,'stroke-dasharray':'1.2 1.6'});
    
    
  });
  const hl=mk(g,'line',{x1:c.l,x2:c.r,y1:sy(1.301),y2:sy(1.301),stroke:'#444','stroke-width':.8,'stroke-dasharray':'1.2 1.6'});
  
  

  /* ticks */
  c.xTickValues.forEach((v,i)=>{
    const t=mk(g,'line',{x1:sx(v),x2:sx(v),y1:c.b,y2:c.b+2,stroke:'#444','stroke-width':.7});
    
    
    const lab=mk(g,'text',{class:'tick',x:sx(v),y:c.b+12,'text-anchor':'middle'},c.xTickLabels[i]);
    
    
  });
  c.yTickValues.forEach((v,i)=>{
    const t=mk(g,'line',{x1:c.l-2,x2:c.l,y1:sy(v),y2:sy(v),stroke:'#444','stroke-width':.7});
    
    
    const lab=mk(g,'text',{class:'tick',x:c.l-4,y:sy(v)+3,'text-anchor':'end'},c.yTickLabels[i]);
    
    
  });

  const xt=mk(g,'text',{class:'axt',x:c.x0,y:c.b+23.5,'text-anchor':'middle'},'log2FC');
  
  
  const yt=mk(g,'text',{class:'axt',transform:'translate('+(c.ytx+3.5)+' '+c.yty+') rotate(-90)','text-anchor':'middle'},'-log10(P-value)');
  
  

  const n1=mk(g,'text',{class:'cnt',x:c.nlx,y:c.ny+4.5,'text-anchor':'middle'},c.nl);
  
  
  const n2=mk(g,'text',{class:'cnt',x:c.nrx,y:c.ny+4.5,'text-anchor':'middle'},c.nr);
  
  

  const pl=mk(root,'text',{class:'pl',x:c.px,y:c.py},c.letter);
  
  
}

drawPanel({id:'a',letter:'A',px:8,py:13,l:29.5,r:283,t:18.5,b:397,x0:156,kx:23.1,y0:380.3,ky:19.15,frame:'#aaa',fw:1,blueFill:'url(#blueSparse)',
  leftY:aLeftY,leftOuter:aLeftOuter,leftInner:aLeftInner,leftHalo:aLeftHalo,rightY:aRightY,rightOuter:aRightOuter,rightInner:aRightInner,rightHalo:aRightHalo,
  redY:aRedBandY,redNear:aRedBandNear,redFar:aRedBandFar,blueY:aBlueBandY,blueFar:aBlueBandFar,
  red:aRed,blue:aBlue,black:aBlack,xTickValues:fiveTickValues,xTickLabels:fiveTicksDecimal,yTickValues:abeYTicks,yTickLabels:abeYTicks,
  ytx:8,yty:209,nl:'n=178',nr:'n=794',nlx:80.7,nrx:232,ny:30});
drawPanel({id:'b',letter:'B',px:340,py:13,l:363,r:616.3,t:18.5,b:397,x0:490,kx:23.1,y0:380.3,ky:22.97,frame:'#aaa',fw:1,blueFill:'url(#blueSparse)',
  leftY:bLeftY,leftOuter:bLeftOuter,leftInner:bLeftInner,leftHalo:bLeftHalo,rightY:bRightY,rightOuter:bRightOuter,rightInner:bRightInner,rightHalo:bRightHalo,
  redY:bRedBandY,redNear:bRedBandNear,redFar:bRedBandFar,blueY:bBlueBandY,blueFar:bBlueBandFar,
  red:bRed,blue:bBlue,black:bBlack,xTickValues:fiveTickValues,xTickLabels:fiveTicksDecimal,yTickValues:abeYTicks,yTickLabels:abeYTicks,
  ytx:340.7,yty:210,nl:'n=212',nr:'n=646',nlx:414,nrx:568,ny:31.7});
drawPanel({id:'c',letter:'C',px:8,py:430,l:29,r:287.3,t:433.5,b:812.3,x0:158,kx:19.6,y0:795.7,ky:49.3,frame:'#aaa',fw:1,blueFill:'url(#blueDense)',
  leftY:cLeftY,leftOuter:cLeftOuter,leftInner:cLeftInner,leftHalo:cLeftHalo,rightY:cRightY,rightOuter:cRightOuter,rightInner:cRightInner,rightHalo:cRightHalo,
  redY:cRedBandY,redNear:cRedBandNear,redFar:cRedBandFar,blueY:cBlueBandY,blueFar:cBlueBandFar,
  red:cRed,blue:cBlue,black:cBlack,xTickValues:sixTickValues,xTickLabels:sixTicks,yTickValues:cYTicks,yTickLabels:cYTicks,
  ytx:12,yty:623,nl:'n=168',nr:'n=496',nlx:84,nrx:235,ny:446});
drawPanel({id:'d',letter:'D',px:342,py:430,l:363,r:618.3,t:433.5,b:812.3,x0:490.3,kx:23.2,y0:795.3,ky:34.5,frame:'#bbb',fw:1.2,blueFill:'url(#blueDense)',
  leftY:dLeftY,leftOuter:dLeftOuter,leftInner:dLeftInner,leftHalo:dLeftHalo,rightY:dRightY,rightOuter:dRightOuter,rightInner:dRightInner,rightHalo:dRightHalo,
  redY:dRedBandY,redNear:dRedBandNear,redFar:dRedBandFar,blueY:dBlueBandY,blueFar:dBlueBandFar,
  red:dRed,blue:dBlue,black:dBlack,xTickValues:fiveTickValues,xTickLabels:fiveTicksDecimal,yTickValues:dYTicks,yTickLabels:dYTickLabels,
  ytx:334,yty:623,nl:'n=275',nr:'n=484',nlx:415,nrx:567,ny:446});
drawPanel({id:'e',letter:'E',px:8,py:848,l:28,r:290,t:850,b:1229,x0:158.7,kx:19.9,y0:1212,ky:22.96,frame:'#ccc',fw:1.5,blueFill:'url(#blueDense)',
  leftY:eLeftY,leftOuter:eLeftOuter,leftInner:eLeftInner,leftHalo:eLeftHalo,rightY:eRightY,rightOuter:eRightOuter,rightInner:eRightInner,rightHalo:eRightHalo,
  redY:eRedBandY,redNear:eRedBandNear,redFar:eRedBandFar,blueY:eBlueBandY,blueFar:eBlueBandFar,
  red:eRed,blue:eBlue,black:eBlack,xTickValues:sixTickValues,xTickLabels:sixTicks,yTickValues:abeYTicks,yTickLabels:abeYTicks,
  ytx:6,yty:1040,nl:'n=476',nr:'n=1594',nlx:82.7,nrx:236.7,ny:862});

const fLabel=mk(document.getElementById('panels'),'text',{class:'pl',x:340,y:848},'F');



const vc=document.getElementById('venn-counts');
vennCounts.forEach((t,i)=>{
  const lab=mk(vc,'text',{class:'vn',x:vennCountX[i],y:vennCountY[i]+10},t);
  
  
});
</script>
</body>
</html>
